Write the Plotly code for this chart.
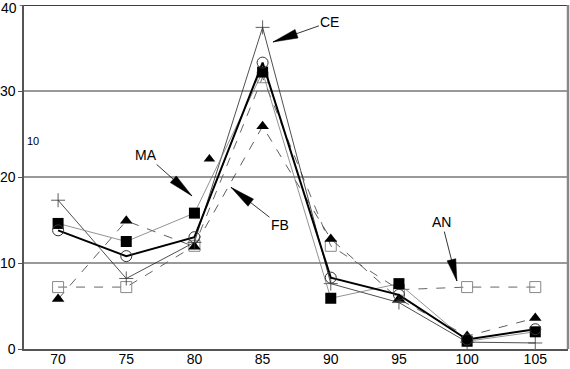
import math
import plotly.graph_objects as go

x = [70, 75, 80, 85, 90, 95, 100, 105]
circle_vals = [13.8, 10.8, 13.0, 33.3, 8.3, 6.3, 1.1, 2.3]
fsquare_vals = [14.6, 12.5, 15.8, 32.2, 5.9, 7.6, 0.9, 2.0]
triangle_vals = [5.8, 14.9, 11.9, 25.9, 12.8, 5.8, 1.5, 3.6]
plus_vals = [17.3, 8.2, 12.4, 37.4, 7.6, 5.4, 0.8, 0.7]
osquare_vals = [7.2, 7.2, 12.0, 31.6, 12.0, 6.9, 7.2, 7.2]
lone_tri_x = [81.1]
lone_tri_y = [22.1]
y_ticks = [0, 10, 20, 30]

fig = go.Figure()
fig.add_trace(go.Scatter(x=x, y=osquare_vals, mode="lines+markers",
                         line=dict(color="#666", width=1, dash="dash"),
                         marker=dict(symbol="square-open", size=11, color="#888", line=dict(width=1))))
fig.add_trace(go.Scatter(x=x, y=triangle_vals, mode="lines+markers",
                         line=dict(color="#333", width=0.8, dash="dash"),
                         marker=dict(symbol="triangle-up", size=11, color="black")))
fig.add_trace(go.Scatter(x=x, y=plus_vals, mode="lines+markers",
                         line=dict(color="#222", width=0.8),
                         marker=dict(symbol="cross-thin-open", size=10, color="#333", line=dict(width=0.8))))
fig.add_trace(go.Scatter(x=x, y=fsquare_vals, mode="lines+markers",
                         line=dict(color="#777", width=0.8),
                         marker=dict(symbol="square", size=11, color="black")))
fig.add_trace(go.Scatter(x=x, y=circle_vals, mode="lines+markers",
                         line=dict(color="black", width=2),
                         marker=dict(symbol="circle-open", size=11, color="#333", line=dict(width=1))))
fig.add_trace(go.Scatter(x=lone_tri_x, y=lone_tri_y, mode="markers",
                         marker=dict(symbol="triangle-up", size=10, color="black")))

font = dict(family="Liberation Sans, Arial, sans-serif", size=14, color="black")

def arrow(text, hx, hy, ax, ay, head_len=25, head_half=4.5):
    fig.add_annotation(x=hx, y=hy, xref="x", yref="y", text=text, ax=ax, ay=ay,
                       showarrow=True, arrowhead=0, arrowwidth=0.8,
                       arrowcolor="black", font=font, standoff=0)
    n = math.hypot(ax, ay)
    dx, dy = ax / n, -ay / n  # y positive up for pixel-sized shapes
    bx, by = dx * head_len, dy * head_len
    px, py = -dy * head_half, dx * head_half
    path = f"M0,0 L{bx + px:.1f},{by + py:.1f} L{bx - px:.1f},{by - py:.1f} Z"
    fig.add_shape(type="path", xref="x", yref="y", xsizemode="pixel", ysizemode="pixel",
                  xanchor=hx, yanchor=hy, path=path, fillcolor="black",
                  line=dict(color="black", width=0.5))

arrow("CE", 85.76, 35.7, 57, -20)
arrow("MA", 79.82, 17.8, -46, -41)
arrow("FB", 82.68, 18.8, 49, 38)
arrow("AN", 99.25, 7.9, -15, -59, head_len=22)

fig.add_annotation(x=68.17, y=24.2, xref="x", yref="y", text="10", showarrow=False,
                   font=dict(family="Liberation Sans, Arial, sans-serif", size=11, color="black"))
# top tick label (40) drawn as text so it is not hidden at the range edge
fig.add_annotation(x=0, y=40, xref="paper", yref="y", text="40", showarrow=False,
                   xanchor="right", xshift=-5, yshift=-3, font=font)

# border lines
fig.add_shape(type="line", xref="paper", yref="y", x0=0, x1=1, y0=40, y1=40,
              line=dict(color="black", width=1.5))
fig.add_shape(type="line", xref="paper", yref="y", x0=-0.008, x1=0, y0=40, y1=40,
              line=dict(color="#555", width=1.5))
fig.add_shape(type="line", xref="paper", yref="y", x0=0, x1=1, y0=30, y1=30,
              line=dict(color="#555", width=1.3), layer="below")
fig.add_shape(type="line", xref="paper", yref="paper", x0=1, x1=1, y0=0, y1=1,
              line=dict(color="#888", width=2.5))

fig.update_layout(
    width=570, height=369, showlegend=False, hovermode=False,
    margin=dict(l=24, r=2, t=5, b=20),
    plot_bgcolor="white", paper_bgcolor="white",
    font=font,
    xaxis=dict(range=[67.5, 107.4], tickvals=x, ticktext=[str(v) for v in x],
               showgrid=False, zeroline=False, showline=True, linecolor="#555", linewidth=1.5,
               ticks="", ticklen=0, tickfont=font, automargin=False, ticklabelstandoff=-4),
    yaxis=dict(range=[0, 40], tickvals=y_ticks,
               showgrid=True, gridcolor="#999", gridwidth=2, zeroline=False,
               showline=True, linecolor="#555", linewidth=1.5,
               ticks="outside", ticklen=4, tickcolor="#555", tickfont=font, automargin=False),
)

fig.write_html("out.html", config={"displayModeBar": False},
               post_script="document.body.style.margin='0';document.body.style.overflow='hidden';")
